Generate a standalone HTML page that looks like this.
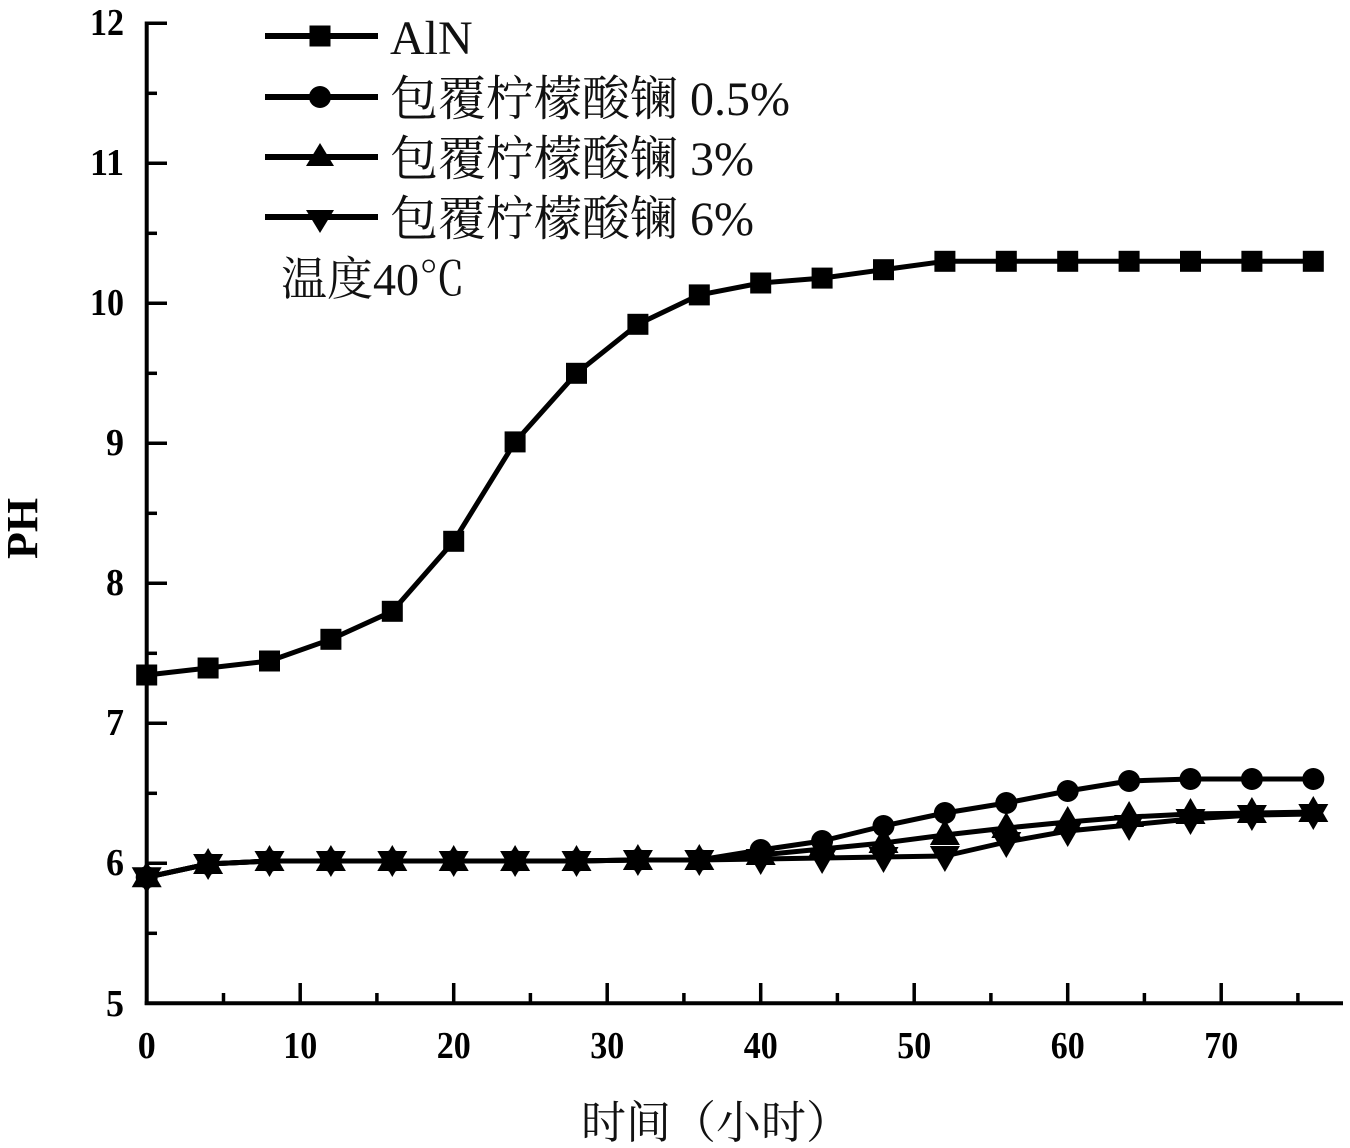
<!DOCTYPE html>
<html>
<head>
<meta charset="utf-8">
<style>
  html, body { margin: 0; padding: 0; background: #fff; }
  svg { display: block; }
  .tick { font-family: "Liberation Serif", serif; font-weight: bold; font-size: 38px; fill: #000; }
  .leg { font-family: "Liberation Serif", "Noto Serif CJK SC", serif; font-size: 48px; fill: #111; }
</style>
</head>
<body>
<svg width="1350" height="1148" viewBox="0 0 1350 1148" xmlns="http://www.w3.org/2000/svg">
  <rect width="1350" height="1148" fill="#fff"/>

  <!-- Axes -->
  <g stroke="#000" stroke-width="4" fill="none">
    <line x1="146.7" y1="21.5" x2="146.7" y2="1005"/>
    <line x1="144.7" y1="1003.3" x2="1343" y2="1003.3"/>
  </g>
  <!-- Y ticks -->
  <g stroke="#000" stroke-width="3.5">
    <line x1="146" y1="23.3" x2="167" y2="23.3"/>
    <line x1="146" y1="93.3" x2="157" y2="93.3"/>
    <line x1="146" y1="163.3" x2="167" y2="163.3"/>
    <line x1="146" y1="233.3" x2="157" y2="233.3"/>
    <line x1="146" y1="303.3" x2="167" y2="303.3"/>
    <line x1="146" y1="373.3" x2="157" y2="373.3"/>
    <line x1="146" y1="443.3" x2="167" y2="443.3"/>
    <line x1="146" y1="513.3" x2="157" y2="513.3"/>
    <line x1="146" y1="583.3" x2="167" y2="583.3"/>
    <line x1="146" y1="653.3" x2="157" y2="653.3"/>
    <line x1="146" y1="723.3" x2="167" y2="723.3"/>
    <line x1="146" y1="793.3" x2="157" y2="793.3"/>
    <line x1="146" y1="863.3" x2="167" y2="863.3"/>
    <line x1="146" y1="933.3" x2="157" y2="933.3"/>
  </g>
  <!-- X ticks -->
  <g stroke="#000" stroke-width="3.5">
    <line x1="223.5" y1="1004" x2="223.5" y2="993"/>
    <line x1="300.2" y1="1004" x2="300.2" y2="983"/>
    <line x1="376.9" y1="1004" x2="376.9" y2="993"/>
    <line x1="453.7" y1="1004" x2="453.7" y2="983"/>
    <line x1="530.4" y1="1004" x2="530.4" y2="993"/>
    <line x1="607.2" y1="1004" x2="607.2" y2="983"/>
    <line x1="683.9" y1="1004" x2="683.9" y2="993"/>
    <line x1="760.7" y1="1004" x2="760.7" y2="983"/>
    <line x1="837.4" y1="1004" x2="837.4" y2="993"/>
    <line x1="914.2" y1="1004" x2="914.2" y2="983"/>
    <line x1="990.9" y1="1004" x2="990.9" y2="993"/>
    <line x1="1067.7" y1="1004" x2="1067.7" y2="983"/>
    <line x1="1144.4" y1="1004" x2="1144.4" y2="993"/>
    <line x1="1221.2" y1="1004" x2="1221.2" y2="983"/>
    <line x1="1297.9" y1="1004" x2="1297.9" y2="993"/>
  </g>

  <!-- Y tick labels -->
  <g class="tick">
    <text x="90" y="35" textLength="34" lengthAdjust="spacingAndGlyphs">12</text>
    <text x="90" y="175" textLength="34" lengthAdjust="spacingAndGlyphs">11</text>
    <text x="90" y="315" textLength="34" lengthAdjust="spacingAndGlyphs">10</text>
    <text x="106" y="455" textLength="18" lengthAdjust="spacingAndGlyphs">9</text>
    <text x="106" y="595" textLength="18" lengthAdjust="spacingAndGlyphs">8</text>
    <text x="106" y="735" textLength="18" lengthAdjust="spacingAndGlyphs">7</text>
    <text x="106" y="875" textLength="18" lengthAdjust="spacingAndGlyphs">6</text>
    <text x="106" y="1016" textLength="18" lengthAdjust="spacingAndGlyphs">5</text>
  </g>
  <!-- X tick labels -->
  <g class="tick">
    <text x="137.7" y="1058" textLength="18" lengthAdjust="spacingAndGlyphs">0</text>
    <text x="283.2" y="1058" textLength="34" lengthAdjust="spacingAndGlyphs">10</text>
    <text x="436.7" y="1058" textLength="34" lengthAdjust="spacingAndGlyphs">20</text>
    <text x="590.2" y="1058" textLength="34" lengthAdjust="spacingAndGlyphs">30</text>
    <text x="743.7" y="1058" textLength="34" lengthAdjust="spacingAndGlyphs">40</text>
    <text x="897.2" y="1058" textLength="34" lengthAdjust="spacingAndGlyphs">50</text>
    <text x="1050.7" y="1058" textLength="34" lengthAdjust="spacingAndGlyphs">60</text>
    <text x="1204.2" y="1058" textLength="34" lengthAdjust="spacingAndGlyphs">70</text>
  </g>

  <!-- Axis titles -->
  <text transform="translate(37,528.5) rotate(-90)" text-anchor="middle" font-family="Liberation Serif, serif" font-weight="bold" font-size="44">PH</text>
  <text x="716" y="1138" text-anchor="middle" font-family="'Liberation Serif', 'Noto Serif CJK SC', serif" font-size="45" fill="#111">时间（小时）</text>

  <defs>
    <rect id="sq" x="-10.5" y="-10.5" width="21" height="21" fill="#000"/>
    <circle id="ci" r="11" fill="#000"/>
    <polygon id="up" points="0,-16 -15,10 15,10" fill="#000"/>
    <polygon id="dn" points="0,16 -15,-10 15,-10" fill="#000"/>
  </defs>

  <!-- Lower series lines -->
  <g fill="none" stroke="#000" stroke-width="5" stroke-linejoin="round">
    <polyline points="146.7,877.3 208.1,864 269.5,861 330.9,861 392.3,861 453.7,861 515.1,861 576.5,861 637.9,860 699.3,860 760.7,859 822.1,858 883.5,857 944.9,856 1006.3,842 1067.7,831 1129.1,825 1190.5,819 1251.9,815 1313.3,814"/>
    <polyline points="146.7,877.3 208.1,864 269.5,861 330.9,861 392.3,861 453.7,861 515.1,861 576.5,861 637.9,860 699.3,860 760.7,855 822.1,849 883.5,843 944.9,835 1006.3,828 1067.7,822 1129.1,817 1190.5,814 1251.9,813 1313.3,812"/>
    <polyline points="146.7,877.3 208.1,864 269.5,861 330.9,861 392.3,861 453.7,861 515.1,861 576.5,861 637.9,860 699.3,860 760.7,850 822.1,841 883.5,826 944.9,813 1006.3,803 1067.7,791 1129.1,781 1190.5,779 1251.9,779 1313.3,779"/>
    <polyline points="146.7,675 208.1,668 269.5,661 330.9,639.3 392.3,611.3 453.7,541.3 515.1,441.9 576.5,373.3 637.9,324.3 699.3,294.9 760.7,283 822.1,278.1 883.5,269.7 944.9,261.3 1006.3,261.3 1067.7,261.3 1129.1,261.3 1190.5,261.3 1251.9,261.3 1313.3,261.3"/>
  </g>

  <g>
    <use href="#dn" x="146.7" y="877.3"/><use href="#dn" x="208.1" y="864"/><use href="#dn" x="269.5" y="861"/><use href="#dn" x="330.9" y="861"/><use href="#dn" x="392.3" y="861"/><use href="#dn" x="453.7" y="861"/><use href="#dn" x="515.1" y="861"/><use href="#dn" x="576.5" y="861"/><use href="#dn" x="637.9" y="860"/><use href="#dn" x="699.3" y="860"/><use href="#dn" x="760.7" y="859"/><use href="#dn" x="822.1" y="858"/><use href="#dn" x="883.5" y="857"/><use href="#dn" x="944.9" y="856"/><use href="#dn" x="1006.3" y="842"/><use href="#dn" x="1067.7" y="831"/><use href="#dn" x="1129.1" y="825"/><use href="#dn" x="1190.5" y="819"/><use href="#dn" x="1251.9" y="815"/><use href="#dn" x="1313.3" y="814"/>
  </g>
  <g>
    <use href="#up" x="146.7" y="877.3"/><use href="#up" x="208.1" y="864"/><use href="#up" x="269.5" y="861"/><use href="#up" x="330.9" y="861"/><use href="#up" x="392.3" y="861"/><use href="#up" x="453.7" y="861"/><use href="#up" x="515.1" y="861"/><use href="#up" x="576.5" y="861"/><use href="#up" x="637.9" y="860"/><use href="#up" x="699.3" y="860"/><use href="#up" x="760.7" y="855"/><use href="#up" x="822.1" y="849"/><use href="#up" x="883.5" y="843"/><use href="#up" x="944.9" y="835"/><use href="#up" x="1006.3" y="828"/><use href="#up" x="1067.7" y="822"/><use href="#up" x="1129.1" y="817"/><use href="#up" x="1190.5" y="814"/><use href="#up" x="1251.9" y="813"/><use href="#up" x="1313.3" y="812"/>
  </g>
  <g>
    <use href="#ci" x="146.7" y="877.3"/><use href="#ci" x="208.1" y="864"/><use href="#ci" x="269.5" y="861"/><use href="#ci" x="330.9" y="861"/><use href="#ci" x="392.3" y="861"/><use href="#ci" x="453.7" y="861"/><use href="#ci" x="515.1" y="861"/><use href="#ci" x="576.5" y="861"/><use href="#ci" x="637.9" y="860"/><use href="#ci" x="699.3" y="860"/><use href="#ci" x="760.7" y="850"/><use href="#ci" x="822.1" y="841"/><use href="#ci" x="883.5" y="826"/><use href="#ci" x="944.9" y="813"/><use href="#ci" x="1006.3" y="803"/><use href="#ci" x="1067.7" y="791"/><use href="#ci" x="1129.1" y="781"/><use href="#ci" x="1190.5" y="779"/><use href="#ci" x="1251.9" y="779"/><use href="#ci" x="1313.3" y="779"/>
  </g>
  <g>
    <use href="#sq" x="146.7" y="675"/><use href="#sq" x="208.1" y="668"/><use href="#sq" x="269.5" y="661"/><use href="#sq" x="330.9" y="639.3"/><use href="#sq" x="392.3" y="611.3"/><use href="#sq" x="453.7" y="541.3"/><use href="#sq" x="515.1" y="441.9"/><use href="#sq" x="576.5" y="373.3"/><use href="#sq" x="637.9" y="324.3"/><use href="#sq" x="699.3" y="294.9"/><use href="#sq" x="760.7" y="283"/><use href="#sq" x="822.1" y="278.1"/><use href="#sq" x="883.5" y="269.7"/><use href="#sq" x="944.9" y="261.3"/><use href="#sq" x="1006.3" y="261.3"/><use href="#sq" x="1067.7" y="261.3"/><use href="#sq" x="1129.1" y="261.3"/><use href="#sq" x="1190.5" y="261.3"/><use href="#sq" x="1251.9" y="261.3"/><use href="#sq" x="1313.3" y="261.3"/>
  </g>

  <!-- Legend -->
  <g stroke="#000" stroke-width="6">
    <line x1="265" y1="36" x2="378" y2="36"/>
    <line x1="265" y1="97" x2="378" y2="97"/>
    <line x1="265" y1="157" x2="378" y2="157"/>
    <line x1="265" y1="217" x2="378" y2="217"/>
  </g>
  <use href="#sq" x="320" y="36"/>
  <use href="#ci" x="320" y="97"/>
  <polygon points="320,143 306,166 334,166" fill="#000"/>
  <polygon points="320,233 306,210 334,210" fill="#000"/>

  <g class="leg">
    <text x="390" y="54">AlN</text>
    <text x="390" y="115">包覆柠檬酸镧 0.5%</text>
    <text x="390" y="175">包覆柠檬酸镧 3%</text>
    <text x="390" y="235">包覆柠檬酸镧 6%</text>
    <text x="281" y="295" font-size="46">温度40℃</text>
  </g>
</svg>
</body>
</html>
